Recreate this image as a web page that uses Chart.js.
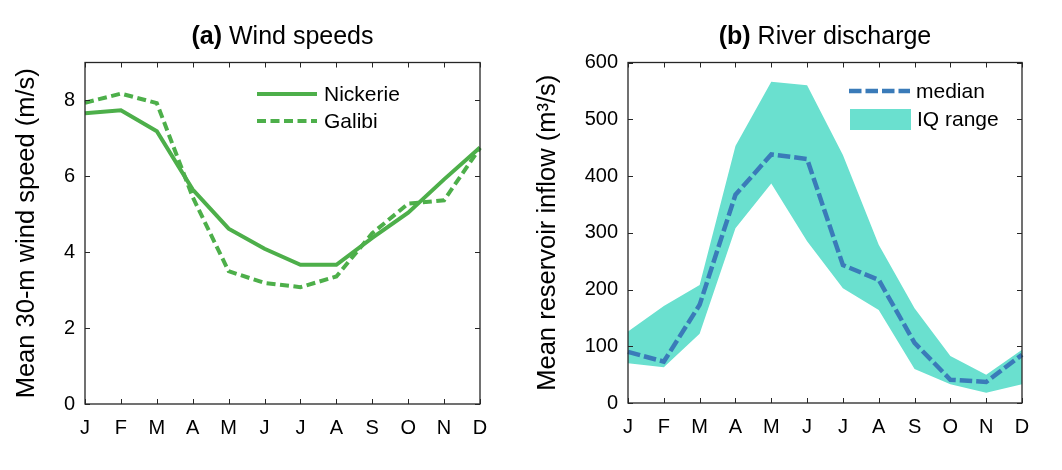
<!DOCTYPE html>
<html>
<head>
<meta charset="utf-8">
<script src="https://cdn.jsdelivr.net/npm/chart.js@4.4.1/dist/chart.umd.min.js"></script>
<style>
  html, body { margin: 0; padding: 0; background: #ffffff; }
  #wrap { position: relative; width: 1062px; height: 470px; background: #fff; }
  canvas { position: absolute; top: 0; }
  #c1 { left: 0; }
  #c2 { left: 531px; }
</style>
</head>
<body>
<div id="wrap">
  <canvas id="c1" width="531" height="470"></canvas>
  <canvas id="c2" width="531" height="470"></canvas>
</div>
<script>
// ---------- data ----------
const months = ['J', 'F', 'M', 'A', 'M', 'J', 'J', 'A', 'S', 'O', 'N', 'D'];

// (a) mean 30-m wind speed (m/s)
const nickerie = [7.66, 7.74, 7.19, 5.65, 4.62, 4.09, 3.67, 3.67, 4.38, 5.04, 5.92, 6.76];
const galibi   = [7.94, 8.18, 7.93, 5.45, 3.50, 3.19, 3.08, 3.36, 4.50, 5.28, 5.37, 6.75];
const windTicks = [0, 2, 4, 6, 8];

// (b) mean reservoir inflow (m3/s)
const median  = [90, 73, 173, 367, 438, 430, 243, 217, 106, 41, 37, 85];
const iqUpper = [126, 171, 208, 453, 566, 560, 437, 279, 167, 83, 50, 94];
const iqLower = [70, 63, 122, 308, 387, 285, 202, 164, 60, 33, 18, 33];
const flowTicks = [0, 100, 200, 300, 400, 500, 600];

const titleA = ['(a)', ' Wind speeds'];
const titleB = ['(b)', ' River discharge'];
const ylabelA = 'Mean 30-m wind speed (m/s)';
const ylabelB = 'Mean reservoir inflow (m\u00B3/s)';

// ---------- styles ----------
const FONT = '"Liberation Sans", Arial, Helvetica, sans-serif';
const GREEN = '#4daf4a';
const BLUE = '#3a7bb9';
const TEAL = '#6ae0cf';
const AXIS = '#262626';

Chart.defaults.font.family = FONT;
Chart.defaults.color = '#000';

function framePlugin() {
  return {
    id: 'frame',
    afterDatasetsDraw(chart) {
      const { ctx, chartArea: a, scales } = chart;
      ctx.save();
      ctx.strokeStyle = AXIS;
      ctx.lineWidth = 1.3;
      ctx.strokeRect(a.left, a.top, a.right - a.left, a.bottom - a.top);
      const L = 5;
      ctx.beginPath();
      scales.x.ticks.forEach((t, i) => {
        const px = Math.round(scales.x.getPixelForTick(i)) + 0.5;
        ctx.moveTo(px, a.bottom); ctx.lineTo(px, a.bottom - L);
        ctx.moveTo(px, a.top); ctx.lineTo(px, a.top + L);
      });
      scales.y.ticks.forEach((t, i) => {
        const py = Math.round(scales.y.getPixelForTick(i)) + 0.5;
        ctx.moveTo(a.left, py); ctx.lineTo(a.left + L, py);
        ctx.moveTo(a.right, py); ctx.lineTo(a.right - L, py);
      });
      ctx.lineWidth = 1;
      ctx.stroke();
      ctx.restore();
    }
  };
}

function titlePlugin(parts) {
  return {
    id: 'ptitle',
    afterDraw(chart) {
      const { ctx, chartArea: a } = chart;
      ctx.save();
      ctx.fillStyle = '#000';
      ctx.textBaseline = 'alphabetic';
      ctx.textAlign = 'left';
      const fb = 'bold 25px ' + FONT, fn = '25px ' + FONT;
      ctx.font = fb; const w1 = ctx.measureText(parts[0]).width;
      ctx.font = fn; const w2 = ctx.measureText(parts[1]).width;
      const x0 = (a.left + a.right) / 2 - (w1 + w2) / 2;
      const y = 44;
      ctx.font = fb; ctx.fillText(parts[0], x0, y);
      ctx.font = fn; ctx.fillText(parts[1], x0 + w1, y);
      ctx.restore();
    }
  };
}

// legend drawn inside the plot, styles taken from the datasets
function legendPlugin(items) {
  return {
    id: 'inlegend',
    afterDatasetsDraw(chart) {
      const { ctx, chartArea: a } = chart;
      ctx.save();
      items.forEach(it => {
        const ds = chart.data.datasets[it.ds];
        const x0 = a.left + it.dx, x1 = x0 + it.len, y = a.top + it.dy;
        if (it.box) {
          ctx.fillStyle = ds.backgroundColor;
          ctx.fillRect(x0, y - it.box / 2, it.len, it.box);
        } else {
          ctx.strokeStyle = ds.borderColor;
          ctx.lineWidth = ds.borderWidth;
          ctx.setLineDash(ds.borderDash || []);
          ctx.lineCap = 'butt';
          ctx.beginPath(); ctx.moveTo(x0, y); ctx.lineTo(x1, y); ctx.stroke();
          ctx.setLineDash([]);
        }
        ctx.fillStyle = '#000';
        ctx.font = '21px ' + FONT;
        ctx.textBaseline = 'middle';
        ctx.textAlign = 'left';
        ctx.fillText(it.label, x1 + it.gap, y + 1);
      });
      ctx.restore();
    }
  };
}

function baseOptions(cfg) {
  return {
    responsive: false,
    animation: false,
    events: [],
    layout: { padding: { left: 0, top: 62.5, right: cfg.padRight, bottom: 0 } },
    plugins: { legend: { display: false }, tooltip: { enabled: false }, title: { display: false } },
    elements: { point: { radius: 0 }, line: { tension: 0 } },
    scales: {
      x: {
        type: 'category',
        offset: false,
        grid: { display: false, drawTicks: false },
        border: { display: false },
        ticks: { font: { size: 20 }, color: '#000', padding: cfg.xPad, maxRotation: 0, autoSkip: false },
        afterFit(s) { s.height = cfg.xHeight; }
      },
      y: {
        type: 'linear',
        min: cfg.min, max: cfg.max,
        grid: { display: false, drawTicks: false },
        border: { display: false },
        ticks: { stepSize: cfg.step, includeBounds: false, font: { size: 20 }, color: '#000', padding: 10 },
        title: { display: true, text: cfg.ylabel, font: { size: 25.5 }, color: '#000', padding: { top: cfg.titlePad, bottom: 0 } },
        afterFit(s) { s.width = cfg.yWidth; }
      }
    }
  };
}

// ---------- (a) ----------
new Chart(document.getElementById('c1'), {
  type: 'line',
  data: {
    labels: months,
    datasets: [
      { label: 'Nickerie', data: nickerie, borderColor: GREEN, borderWidth: 4, fill: false, borderJoinStyle: 'miter' },
      { label: 'Galibi', data: galibi, borderColor: GREEN, borderWidth: 4, borderDash: [9, 4.5], fill: false, borderJoinStyle: 'miter' }
    ]
  },
  options: baseOptions({ padRight: 51, xHeight: 66, yWidth: 85, min: 0, max: 9, step: 2, ylabel: ylabelA, titlePad: 12, xPad: 12 }),
  plugins: [framePlugin(), titlePlugin(titleA), legendPlugin([
    { ds: 0, dx: 172, dy: 31.5, len: 60, gap: 7, label: 'Nickerie' },
    { ds: 1, dx: 172, dy: 58.5, len: 60, gap: 7, label: 'Galibi' }
  ])]
});

// ---------- (b) ----------
new Chart(document.getElementById('c2'), {
  type: 'line',
  data: {
    labels: months,
    datasets: [
      { label: 'median', data: median, borderColor: BLUE, borderWidth: 4.5, borderDash: [12.5, 4], fill: false, order: 0, borderJoinStyle: 'miter' },
      { label: 'IQ lower', data: iqLower, borderColor: 'rgba(0,0,0,0)', borderWidth: 0, fill: false, order: 1 },
      { label: 'IQ range', data: iqUpper, borderColor: 'rgba(0,0,0,0)', borderWidth: 0, backgroundColor: TEAL, fill: 1, order: 2 }
    ]
  },
  options: baseOptions({ padRight: 40, xHeight: 67, yWidth: 97, min: 0, max: 600, step: 100, ylabel: ylabelB, titlePad: 2, xPad: 12 }),
  plugins: [framePlugin(), titlePlugin(titleB), legendPlugin([
    { ds: 0, dx: 221, dy: 28.5, len: 61, gap: 6, label: 'median' },
    { ds: 2, dx: 222, dy: 57, len: 61, gap: 6, box: 21, label: 'IQ range' }
  ])]
});
</script>
</body>
</html>
